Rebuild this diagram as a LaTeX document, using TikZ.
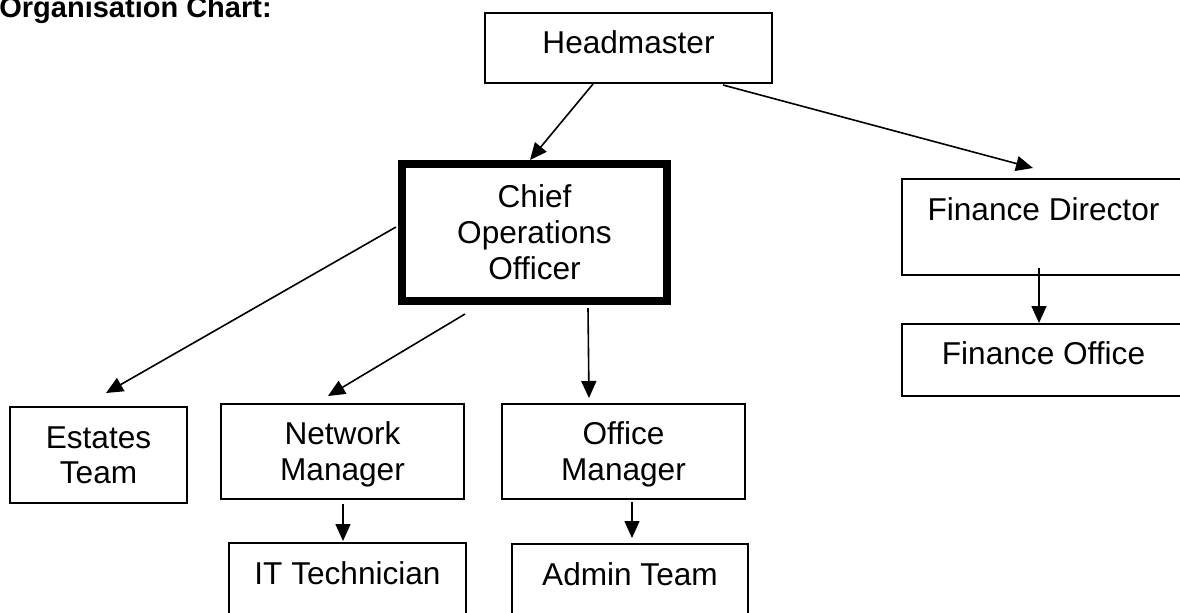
\documentclass[tikz,border=0pt]{standalone}
\usepackage{fontspec}
\setmainfont{Liberation Sans}
\usetikzlibrary{arrows.meta, calc}
\newcommand\bstrut{\rule[-0.2em]{0pt}{1.1em}}

\begin{document}
\begin{tikzpicture}[x=0.5pt, y=-0.5pt,
    box/.style={draw, line width=1pt, align=center, inner sep=0pt, font=\fontsize{15.8}{17.8}\selectfont},
    link/.style={-{Triangle[length=8.5pt, width=7.5pt]}, line width=0.8pt}]
    \useasboundingbox (0,0) rectangle (1180,612);
    \clip (0,0) rectangle (1180,612);

    % Title
    \node[anchor=base west, inner sep=0pt, font=\bfseries\fontsize{14.5}{17}\selectfont] (title) at (-1,17.5) {Organisation Chart:};

    % Draw the boxes
    \node[box, text depth=6pt, minimum width=143.5pt, minimum height=35pt] (hm) at (628.5,48) {Headmaster};
    \node[box, line width=4pt, minimum width=132.5pt, minimum height=68.5pt] (coo) at (534.5,232.5) {Chief\bstrut\\Operations\\Officer\bstrut};
    \node[box, minimum width=141.5pt, minimum height=48pt] (fd) at (1043.5,227) {Finance Director\bstrut\\ \bstrut};
    \node[box, text depth=7pt, minimum width=141.5pt, minimum height=36pt] (fo) at (1043.5,360) {Finance Office};
    \node[box, minimum width=88.5pt, minimum height=48pt] (est) at (98.5,455) {Estates\bstrut\\Team\bstrut};
    \node[box, minimum width=121.5pt, minimum height=47.5pt] (net) at (342.5,451.5) {Network\bstrut\\Manager\bstrut};
    \node[box, minimum width=121.5pt, minimum height=47.5pt] (off) at (623.5,451.5) {Office\bstrut\\Manager\bstrut};
    \node[box, minimum width=118.5pt, minimum height=48pt] (it) at (347.5,591) {IT Technician\bstrut\\ \bstrut};
    \node[box, minimum width=118pt, minimum height=48pt] (adm) at (630,592) {Admin Team\bstrut\\ \bstrut};

    % Connect the boxes
    \draw[link] ($(hm.south)+(-35.5,0)$) -- ($(coo.north)+(-4.5,0)$);
    \draw[link] ($(hm.south)+(94.5,1)$) -- ($(fd.north)+(-10.5,-10)$);
    \draw[link] ($(coo.west)+(-2,-5.5)$) -- ($(est.north)+(7.5,-13)$);
    \draw[link] ($(coo.south)+(-69.5,9)$) -- ($(net.north)+(-14.5,-7)$);
    \draw[link] ($(coo.south)+(53.5,3)$) -- ($(off.north)+(-34.5,-5)$);
    \draw[link] ($(fd.south)+(-4.5,-8)$) -- ($(fo.north)+(-4.5,0)$);
    \draw[link] ($(net.south)+(0.5,4)$) -- ($(it.north)+(-4.5,-1)$);
    \draw[link] ($(off.south)+(8.5,2)$) -- ($(adm.north)+(2,-5)$);
\end{tikzpicture}
\end{document}
